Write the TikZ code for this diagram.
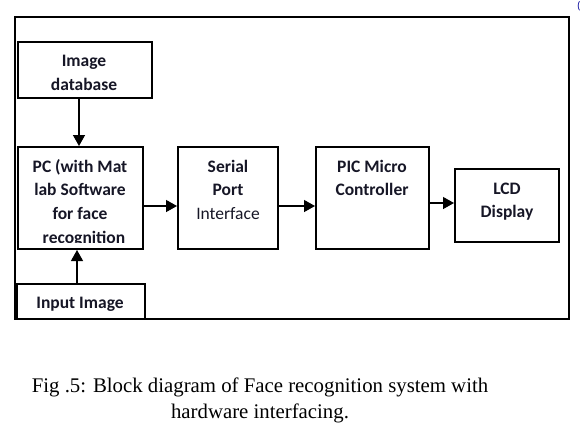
\documentclass[tikz,border=0pt]{standalone}
\usepackage{fontspec}
\setmainfont{Liberation Serif}
\newfontfamily\calibri{Carlito}
\usetikzlibrary{arrows.meta}
\definecolor{txt}{RGB}{22,22,38}
\begin{document}
\begin{tikzpicture}[x=1pt,y=-1pt,
  blk/.style={draw=black,line width=2pt,inner sep=0pt},
  lbl/.style={font=\calibri\bfseries\fontsize{17.5}{23.7}\selectfont,text=txt,align=center,inner sep=0pt,anchor=north},
  arr/.style={line width=1.3pt,-{Triangle[length=11pt,width=12pt]}},
  captext/.style={font=\fontsize{20.8}{26}\selectfont,inner sep=0pt,anchor=base}]
\useasboundingbox (0,0) rectangle (581,432);
% outer frame
\node[blk,minimum width=554pt,minimum height=302pt] (frame) at (292,168) {};
% text first (north = first baseline - 0.7*23.7), boxes on top
\node[lbl] (tdb) at (84,66.7-16.6) {\strut Image\\database};
\node[lbl] (tpc) at (80,172-16.6) {\strut PC (with Mat\\lab Software\\for face\\\hspace*{8pt}recognition};
\node[lbl] (tsp) at (228,172-16.6) {\strut Serial\\Port\\\mdseries Interface};
\node[lbl] (tpic) at (372,172-16.6) {\strut PIC Micro\\Controller};
\node[lbl] (tlcd) at (507,194-16.6) {\strut LCD\\Display};
\node[lbl] (tin) at (80,308-16.6) {\strut Input Image};
% clip of the last PC text line, as in the reference
\fill[white] (20,243.2) rectangle (141,262);
% boxes
\node[blk,minimum width=134pt,minimum height=56pt] (db) at (85,70) {};
\node[blk,minimum width=125pt,minimum height=102pt] (pc) at (80.5,198) {};
\node[blk,minimum width=100pt,minimum height=102pt] (sp) at (228,198) {};
\node[blk,minimum width=113pt,minimum height=102pt] (pic) at (372.5,198) {};
\node[blk,minimum width=104pt,minimum height=73pt] (lcd) at (507,205.5) {};
\node[blk,minimum width=128pt,minimum height=35pt] (in) at (81,301.5) {};
% arrows
\draw[arr] (db.south -| 79,0) -- (pc.north -| 79,0);
\draw[arr] (in.north -| 77,0) -- (pc.south -| 77,0);
\draw[arr] (pc.east |- 0,206) -- (sp.west |- 0,206);
\draw[arr] (sp.east |- 0,206) -- (pic.west |- 0,206);
\draw[arr] (pic.east |- 0,203) -- (lcd.west |- 0,203);
% caption
\node[captext] (cap1) at (260,392) {Fig .5: Block diagram of Face recognition system with};
\node[captext] (cap2) at (260,418) {hardware interfacing.};
\node[font=\calibri\fontsize{11}{11}\selectfont,text=blue!60!black,anchor=west,inner sep=0pt] (frag) at (577,6) {(};
\end{tikzpicture}
\end{document}
